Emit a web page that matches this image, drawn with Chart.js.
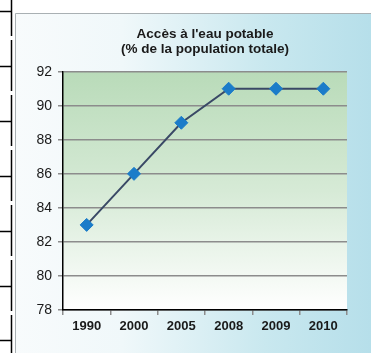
<!DOCTYPE html>
<html>
<head>
<meta charset="utf-8">
<script src="https://cdn.jsdelivr.net/npm/chart.js@4"></script>
<style>
  html, body { margin: 0; padding: 0; background: #fff; }
  #wrap { width: 371px; height: 353px; }
</style>
</head>
<body>
<div id="wrap"><canvas id="eau" width="371" height="353"></canvas></div>
<script>
// données
const annees = ["1990", "2000", "2005", "2008", "2009", "2010"];
const acces = [83, 86, 89, 91, 91, 91];
const titre = ["Accès à l'eau potable", "(% de la population totale)"];
const yMin = 78, yMax = 92, yPas = 2;

Chart.defaults.font.family = "'Liberation Sans', Arial, sans-serif";
Chart.defaults.color = "#1a1a1a";

// fond de page, cadre et zone de tracé dégradée
const fond = {
    id: "fond",
    beforeDraw(chart) {
        const ctx = chart.ctx, a = chart.chartArea;
        const W = chart.width, H = chart.height;
        ctx.save();
        ctx.fillStyle = "#fff";
        ctx.fillRect(0, 0, W, H);

        // bord du tableau à gauche
        ctx.strokeStyle = "#000";
        ctx.lineWidth = 1.5;
        ctx.beginPath();
        const lignes = [11, 66, 121, 176, 231, 286, 340];
        lignes.forEach(y => {
            ctx.moveTo(0, y + 0.5); ctx.lineTo(11.5, y + 0.5);
        });
        // trait vertical avec petites coupures
        let y0 = 0;
        lignes.forEach(y => {
            ctx.moveTo(11.5, y0); ctx.lineTo(11.5, y + 25);
            y0 = y + 29;
        });
        ctx.moveTo(11.5, y0); ctx.lineTo(11.5, H);
        ctx.stroke();

        // panneau
        const g = ctx.createLinearGradient(15, 0, W, 0);
        g.addColorStop(0, "#f8fbfc");
        g.addColorStop(0.3, "#f0f8fa");
        g.addColorStop(0.7, "#c9e8ef");
        g.addColorStop(1, "#b6dfea");
        ctx.fillStyle = g;
        ctx.fillRect(15, 13, W - 15, H - 13);
        ctx.strokeStyle = "#a9b0b3";
        ctx.lineWidth = 1;
        ctx.beginPath();
        ctx.moveTo(15.5, H); ctx.lineTo(15.5, 13.5); ctx.lineTo(W, 13.5);
        ctx.stroke();

        // zone de tracé
        const v = ctx.createLinearGradient(0, a.top, 0, a.bottom);
        v.addColorStop(0, "#b9dbb9");
        v.addColorStop(0.5, "#d6ead6");
        v.addColorStop(1, "#ffffff");
        ctx.fillStyle = v;
        ctx.fillRect(a.left, a.top, a.right - a.left, a.bottom - a.top);
        ctx.restore();
    }
};

new Chart(document.getElementById("eau"), {
    type: "line",
    data: {
        labels: annees,
        datasets: [{
            label: "Accès",
            data: acces,
            borderColor: "#3a4966",
            borderWidth: 2,
            tension: 0,
            pointStyle: "rectRot",
            pointRadius: 6.5,
            pointBackgroundColor: "#1b7cc9",
            pointBorderColor: "#1b7cc9",
            pointBorderWidth: 1
        }]
    },
    options: {
        responsive: false,
        animation: false,
        layout: { padding: { left: 15, right: 24, top: 27, bottom: 13 } },
        plugins: {
            legend: { display: false },
            tooltip: { enabled: false },
            title: {
                display: true,
                text: titre,
                fullSize: false,
                color: "#1a1a1a",
                font: { size: 13.5, weight: "bold", lineHeight: 1.1 },
                padding: { top: 0, bottom: 15 }
            }
        },
        scales: {
            x: {
                offset: true,
                grid: {
                    offset: true,
                    color: c => c.index === annees.length ? "#8c8c8c" : "rgba(0,0,0,0)",
                    lineWidth: 1.5,
                    tickColor: "#8c8c8c",
                    tickLength: 5
                },
                border: { color: "#000", width: 1.5 },
                ticks: { font: { size: 13, weight: "bold" }, color: "#1a1a1a", padding: 4 },
                afterFit: s => { s.height = 30; }
            },
            y: {
                min: yMin,
                max: yMax,
                grid: { color: "#8c8c8c", lineWidth: 1.5, tickLength: 5 },
                border: { color: "#000", width: 1.5 },
                ticks: { stepSize: yPas, font: { size: 14 }, color: "#1a1a1a", padding: 6 },
                afterFit: s => { s.width = 48; }
            }
        }
    },
    plugins: [fond]
});
</script>
</body>
</html>
